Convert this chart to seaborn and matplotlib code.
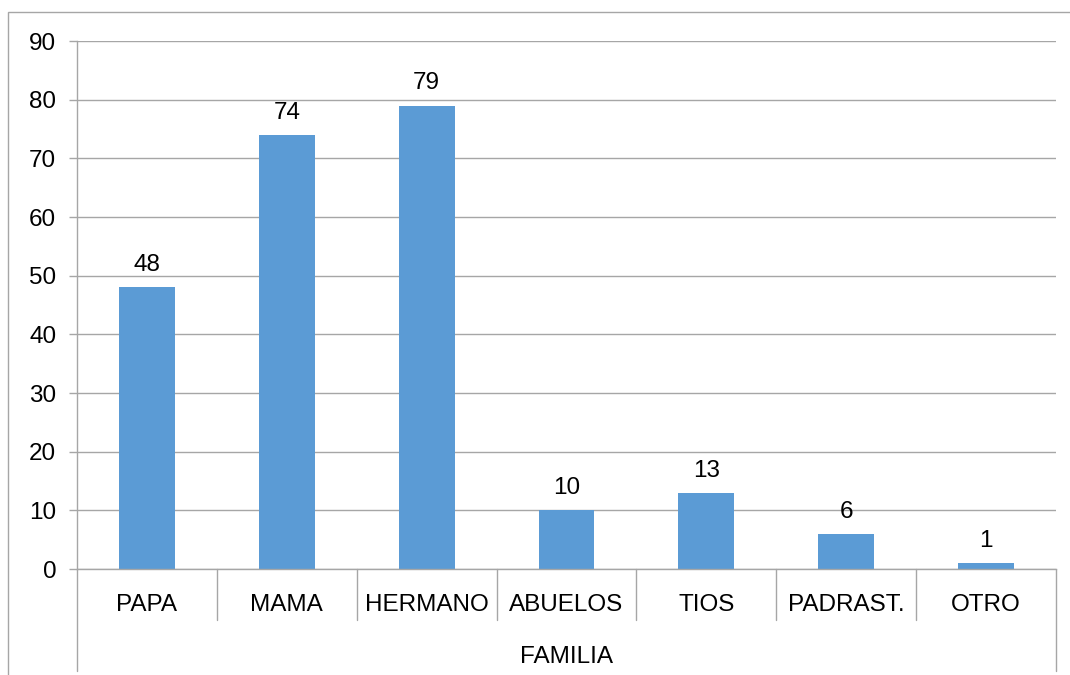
import matplotlib
matplotlib.use("Agg")
import matplotlib.pyplot as plt
import matplotlib.transforms as mtransforms
from matplotlib.patches import Rectangle
import seaborn as sns
import pandas as pd

categories = ["PAPA", "MAMA", "HERMANO", "ABUELOS", "TIOS", "PADRAST.", "OTRO"]
values = [48, 74, 79, 10, 13, 6, 1]
y_ticks = [0, 10, 20, 30, 40, 50, 60, 70, 80, 90]
axis_title = "FAMILIA"

sns.set_theme(style="white")
plt.rcParams['font.family'] = ['Liberation Sans', 'DejaVu Sans']

grid_c = "#a6a6a6"
bar_c = "#5b9bd5"
fs = 17.5

fig = plt.figure(figsize=(10.70, 6.75), dpi=100)
ax = fig.add_axes([77/1070, (675-569)/675, (1056-77)/1070, (569-41)/675])

df = pd.DataFrame({"cat": categories, "val": values})
sns.barplot(data=df, x="cat", y="val", color=bar_c, width=0.4, ax=ax,
            saturation=1, linewidth=0)

ax.set_ylim(0, 90)
ax.set_xlim(-0.5, len(categories) - 0.5)
ax.set_yticks(y_ticks)
ax.set_yticklabels([str(t) for t in y_ticks], fontsize=fs, color="black")
ax.yaxis.grid(True, color=grid_c, linewidth=1)
ax.set_axisbelow(True)
ax.tick_params(axis="y", length=6, color=grid_c, width=1, pad=9, left=True, labelcolor="black")
ax.tick_params(axis="x", length=0, pad=18, labelsize=fs, labelcolor="black")
ax.set_xlabel("")
ax.set_ylabel("")
for s in ["top", "right"]:
    ax.spines[s].set_visible(False)
for s in ["left", "bottom"]:
    ax.spines[s].set_color(grid_c)
    ax.spines[s].set_linewidth(1)

for i, v in enumerate(values):
    ax.annotate(str(v), (i, v), xytext=(0, 8), textcoords="offset points",
                ha="center", va="bottom", fontsize=fs, color="black")

trans = mtransforms.blended_transform_factory(ax.transData, ax.transAxes)
n = len(categories)
for k in range(n + 1):
    xb = k - 0.5
    depth = -0.193 if k in (0, n) else -0.097
    ax.plot([xb, xb], [0, depth], transform=trans, color=grid_c, lw=1, clip_on=False)

ax.text((n - 1) / 2, -0.167, axis_title, transform=trans, ha="center", va="center",
        fontsize=fs, color="black")

fig.patches.append(Rectangle((8/1070, -0.2), 1.1, (675-12)/675 + 0.2, transform=fig.transFigure,
                             fill=False, edgecolor=grid_c, linewidth=1))

fig.savefig("out.png", dpi=100)
